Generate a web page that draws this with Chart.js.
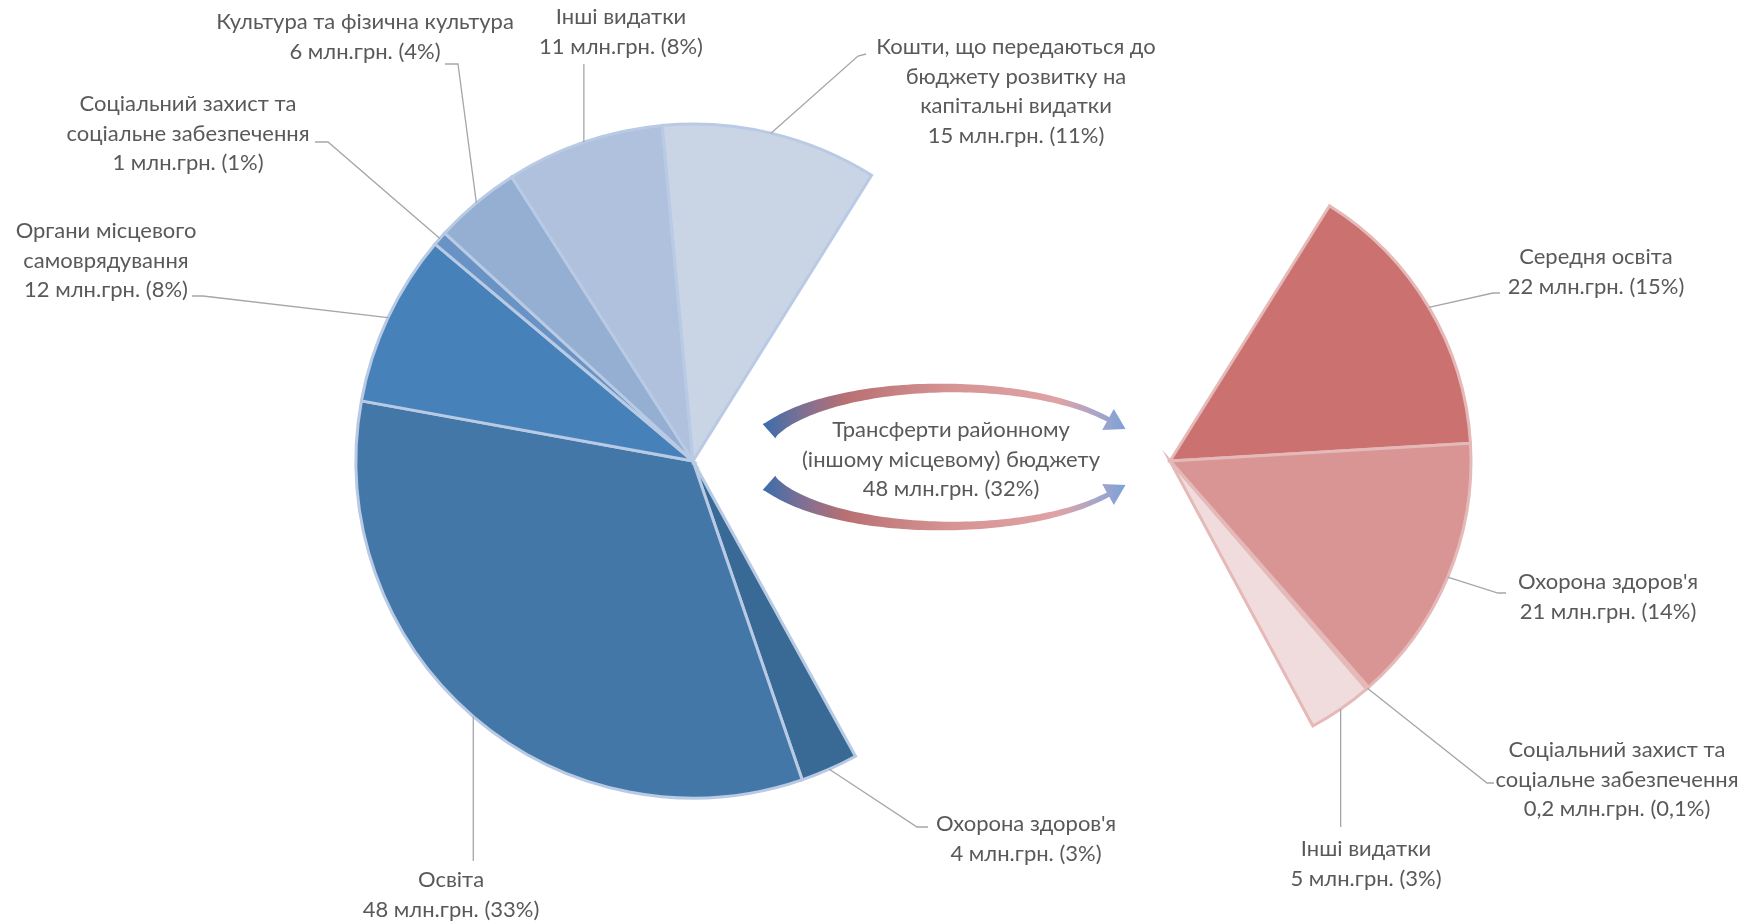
<!DOCTYPE html>
<html><head><meta charset="utf-8">
<script src="https://cdn.jsdelivr.net/npm/chart.js@4.4.1/dist/chart.umd.min.js"></script>
<style>
html,body{margin:0;padding:0;background:#fff;}
#wrap{position:relative;width:1753px;height:922px;overflow:hidden;}
#wrap canvas{position:absolute;left:0;top:0;}
</style></head><body>
<div id="wrap"><canvas id="left" width="1753" height="922"></canvas><canvas id="right" width="1753" height="922"></canvas></div>
<script>
// ---------- DATA ----------
const leftCategories = [
  ['Трансферти районному', '(іншому місцевому) бюджету'],
  ["Охорона здоров'я"],
  ['Освіта'],
  ['Органи місцевого', 'самоврядування'],
  ['Соціальний захист та', 'соціальне забезпечення'],
  ['Культура та фізична культура'],
  ['Інші видатки'],
  ['Кошти, що передаються до', 'бюджету розвитку на', 'капітальні видатки']
];
const leftValues = [48, 4, 48, 12, 1, 6, 11, 15];
const leftPercents = ['32', '3', '33', '8', '1', '4', '8', '11'];

const rightCategories = [
  ['Середня освіта'],
  ["Охорона здоров'я"],
  ['Соціальний захист та', 'соціальне забезпечення'],
  ['Інші видатки']
];
const rightValues = [22, 21, 0.2, 5];
const rightPercents = ['15', '14', '0,1', '3'];

// ---------- STYLE / LAYOUT ----------
const W = 1753, H = 922;
const FONT = '22px Lato';
const LH = 29.5;
const TEXT = '#595959';
const LEADER = '#a6a6a6';
const leftColors = ['rgba(0,0,0,0)', '#386a95', '#4277a7', '#4682b9', '#6893c4', '#95afd3', '#afc1dc', '#c9d4e5'];
const rightColors = ['#cb7170', '#d89594', '#e3b3b3', '#f1dcdd', 'rgba(0,0,0,0)'];
const LEFT_C = {x: 693, y: 461, r: 337};
const RIGHT_C = {x: 1170, y: 461, r: 301};
const ROT = 32;

const leftLayout = [
  null,
  {x: 1026, y: 824, path: [[917, 827], [928, 827]]},
  {x: 451, y: 880, vertical: 861},
  {x: 106, y: 231, path: [[203, 296], [192, 296]]},
  {x: 188, y: 104, path: [[328, 142], [315, 142]]},
  {x: 365, y: 22, path: [[458, 64], [445, 64]]},
  {x: 621, y: 17, vertical: 64},
  {x: 1016, y: 47, path: [[858, 56], [866, 54]]}
];
const centerLabel = {x: 951, y: 430};
const rightLayout = [
  {x: 1596, y: 257, path: [[1493, 293], [1500, 293]]},
  {x: 1608, y: 582, path: [[1498, 593], [1506, 593]]},
  {x: 1617, y: 750, path: [[1487, 783], [1494, 783]]},
  {x: 1366, y: 849, vertical: 827}
];

const fmt = v => String(v).replace('.', ',');
const valueLine = (v, p) => fmt(v) + ' млн.грн. (' + p + '%)';

function drawLabels(chart, cats, vals, pcts, layout) {
  const ctx = chart.ctx;
  const meta = chart.getDatasetMeta(0);
  ctx.save();
  ctx.font = FONT; ctx.fillStyle = TEXT; ctx.textAlign = 'center'; ctx.textBaseline = 'middle';
  layout.forEach((L, i) => {
    if (!L) return;
    const arc = meta.data[i];
    const {x, y, startAngle, endAngle, outerRadius} = arc.getProps(['x', 'y', 'startAngle', 'endAngle', 'outerRadius'], true);
    const mid = (startAngle + endAngle) / 2;
    const px = x + Math.cos(mid) * outerRadius, py = y + Math.sin(mid) * outerRadius;
    ctx.strokeStyle = LEADER; ctx.lineWidth = 1.3;
    ctx.beginPath(); ctx.moveTo(px, py);
    if (L.vertical !== undefined) ctx.lineTo(px, L.vertical);
    else L.path.forEach(p => ctx.lineTo(p[0], p[1]));
    ctx.stroke();
    const lines = cats[i].concat([valueLine(vals[i], pcts[i])]);
    lines.forEach((t, k) => ctx.fillText(t, L.x, L.y + k * LH));
  });
  ctx.restore();
}

function drawArrow(ctx, cx, cy, rx, ry, t0, t1, w0, w1, headW, headL, flip, grad) {
  const s = flip ? -1 : 1;
  const n = 80;
  const P = t => [cx + rx * Math.cos(t), cy + s * ry * Math.sin(t)];
  const Nm = t => { const nx = ry * Math.cos(t), ny = s * rx * Math.sin(t); const l = Math.hypot(nx, ny); return [nx / l, ny / l]; };
  const outer = [], inner = [];
  for (let k = 0; k <= n; k++) {
    const f = k / n;
    const t = t0 + (t1 - t0) * f;
    const w = w0 + (w1 - w0) * Math.pow(f, 0.5);
    const p = P(t), nn = Nm(t);
    outer.push([p[0] + nn[0] * w / 2, p[1] + nn[1] * w / 2]);
    inner.push([p[0] - nn[0] * w / 2, p[1] - nn[1] * w / 2]);
  }
  const pe = P(t1), ne = Nm(t1);
  let tx = -rx * Math.sin(t1), ty = s * ry * Math.cos(t1);
  const tl = Math.hypot(tx, ty); tx /= tl; ty /= tl;
  ctx.beginPath();
  outer.forEach((p, k) => k ? ctx.lineTo(p[0], p[1]) : ctx.moveTo(p[0], p[1]));
  ctx.lineTo(pe[0] + ne[0] * headW, pe[1] + ne[1] * headW);
  ctx.lineTo(pe[0] + tx * headL, pe[1] + ty * headL);
  ctx.lineTo(pe[0] - ne[0] * headW, pe[1] - ne[1] * headW);
  for (let k = n; k >= 0; k--) ctx.lineTo(inner[k][0], inner[k][1]);
  ctx.closePath();
  ctx.fillStyle = grad; ctx.fill();
}

function drawCenter(chart) {
  const ctx = chart.ctx;
  ctx.save();
  const g = ctx.createLinearGradient(765, 0, 1132, 0);
  g.addColorStop(0, '#3f6daa');
  g.addColorStop(0.1, '#7d6f94');
  g.addColorStop(0.22, '#b87072');
  g.addColorStop(0.5, '#d69393');
  g.addColorStop(0.8, '#dea3a5');
  g.addColorStop(0.9, '#a9a6c8');
  g.addColorStop(1, '#73a0da');
  const deg = Math.PI / 180;
  drawArrow(ctx, 947, 457, 192, 69, 202 * deg, 327 * deg, 19, 5, 12, 20, false, g);
  drawArrow(ctx, 947, 457, 192, 69, 202 * deg, 327 * deg, 19, 5, 12, 20, true, g);
  ctx.font = FONT; ctx.fillStyle = TEXT; ctx.textAlign = 'center'; ctx.textBaseline = 'middle';
  const lines = leftCategories[0].concat([valueLine(leftValues[0], leftPercents[0])]);
  lines.forEach((t, k) => ctx.fillText(t, centerLabel.x, centerLabel.y + k * LH));
  ctx.restore();
}

Chart.defaults.font.family = 'Lato';

const leftChart = new Chart(document.getElementById('left'), {
  type: 'pie',
  data: {
    labels: leftCategories.map(c => c.join(' ')),
    datasets: [{
      data: leftValues,
      backgroundColor: leftColors,
      borderColor: leftColors.map((c, i) => i === 0 ? 'rgba(0,0,0,0)' : '#b8cae4'),
      borderWidth: leftColors.map((c, i) => i === 0 ? 0 : 3),
      borderJoinStyle: 'miter',
      radius: LEFT_C.r
    }]
  },
  options: {
    responsive: false, animation: false,
    rotation: ROT,
    layout: {padding: {left: 0, top: 0, bottom: H - 2 * LEFT_C.y, right: W - 2 * LEFT_C.x}},
    plugins: {legend: {display: false}, tooltip: {enabled: false}}
  },
  plugins: [{
    id: 'leftLabels',
    afterDraw(chart) {
      drawLabels(chart, leftCategories, leftValues, leftPercents, leftLayout);
      drawCenter(chart);
    }
  }]
});

const leftTotal = leftValues.reduce((a, b) => a + b, 0);
const rightTotal = rightValues.reduce((a, b) => a + b, 0);

const rightChart = new Chart(document.getElementById('right'), {
  type: 'pie',
  data: {
    labels: rightCategories.map(c => c.join(' ')).concat(['']),
    datasets: [{
      data: rightValues.concat([leftTotal - rightTotal]),
      backgroundColor: rightColors,
      borderColor: rightColors.map((c, i) => i === rightValues.length ? 'rgba(0,0,0,0)' : '#e6b9b9'),
      borderWidth: rightColors.map((c, i) => i === rightValues.length ? 0 : 3),
      borderJoinStyle: 'miter',
      radius: RIGHT_C.r
    }]
  },
  options: {
    responsive: false, animation: false,
    rotation: ROT,
    layout: {padding: {left: 2 * RIGHT_C.x - W, top: 0, bottom: H - 2 * RIGHT_C.y, right: 0}},
    plugins: {legend: {display: false}, tooltip: {enabled: false}}
  },
  plugins: [{
    id: 'rightLabels',
    afterDraw(chart) {
      drawLabels(chart, rightCategories, rightValues, rightPercents, rightLayout);
    }
  }]
});
</script>
</body></html>
